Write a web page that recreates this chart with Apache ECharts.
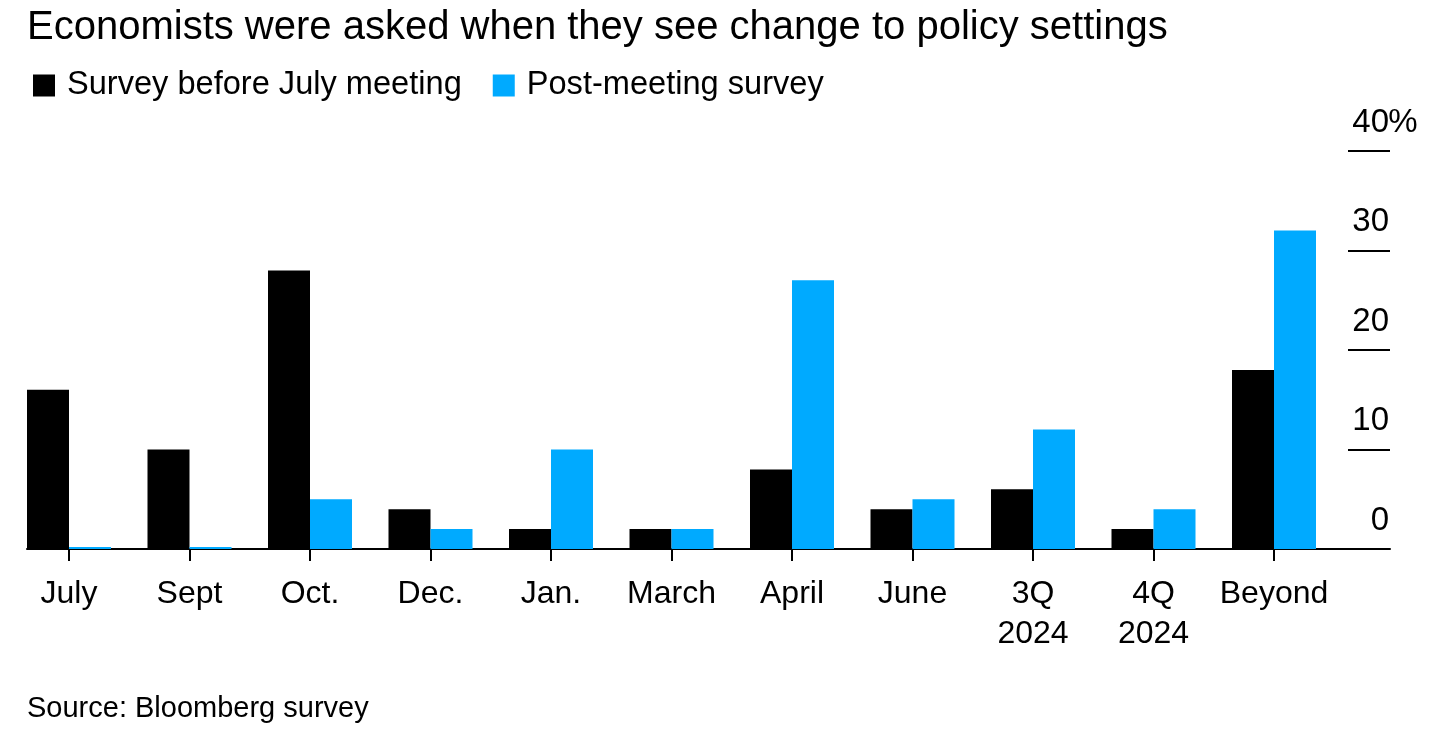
<!DOCTYPE html>
<html>
<head>
<meta charset="utf-8">
<script src="https://cdn.jsdelivr.net/npm/echarts@6/dist/echarts.min.js"></script>
<style>
html,body{margin:0;padding:0;background:#fff;}
#chart{width:1456px;height:734px;}
</style>
</head>
<body>
<div id="chart"></div>
<script>
const categories = ['July','Sept','Oct.','Dec.','Jan.','March','April','June','3Q\n2024','4Q\n2024','Beyond'];
const beforeMeeting = [16,10,28,4,2,2,8,4,6,2,18];
const postMeeting = [0.2,0.2,5,2,10,2,27,5,12,4,32];
const yTicks = [0,10,20,30,40];
const seriesNames = ['Survey before July meeting','Post-meeting survey'];
const titleText = 'Economists were asked when they see change to policy settings';
const sourceText = 'Source: Bloomberg survey';

const FONT = '"Liberation Sans", Arial, Helvetica, sans-serif';
const BLUE = '#00aaff';
const chart = echarts.init(document.getElementById('chart'));
chart.setOption({
  backgroundColor:'#fff',
  animation:false,
  textStyle:{fontFamily:FONT,color:'#000'},
  title:[
    {text:titleText,left:22,top:3,textStyle:{fontFamily:FONT,fontSize:40,fontWeight:'normal',color:'#000'}},
    {text:sourceText,left:22,top:689,textStyle:{fontFamily:FONT,fontSize:29,fontWeight:'normal',color:'#000'}}
  ],
  legend:{
    left:28,top:64,itemWidth:22,itemHeight:22,itemGap:31,icon:'rect',
    textStyle:{fontFamily:FONT,fontSize:32.6,color:'#000',padding:[0,0,0,7]},
    data:seriesNames
  },
  grid:[
    {left:8.75,right:121.75,top:151,bottom:185},
    {left:27,right:66,top:151,bottom:185},
    {left:27,right:108,top:151,bottom:185}
  ],
  xAxis:[
    {type:'category',gridIndex:0,data:categories,
     axisLine:{show:false},
     axisTick:{show:true,alignWithLabel:true,length:12,lineStyle:{color:'#000',width:2}},
     axisLabel:{fontFamily:FONT,fontSize:32,color:'#000',margin:25,lineHeight:40,interval:0}},
    {type:'value',gridIndex:1,min:0,max:1,
     axisLine:{show:true,onZero:false,lineStyle:{color:'#000',width:2}},
     axisTick:{show:false},axisLabel:{show:false},splitLine:{show:false}},
    {type:'value',gridIndex:2,min:0,max:1,show:false,axisLine:{onZero:false}}
  ],
  yAxis:[
    {type:'value',gridIndex:0,min:0,max:40,interval:10,show:false},
    {type:'value',gridIndex:1,min:0,max:40,interval:10,show:false,axisLine:{onZero:false}},
    {type:'value',gridIndex:2,min:0,max:40,interval:10,position:'right',
     axisLine:{show:false,onZero:false},
     axisTick:{show:true,inside:false,length:42,lineStyle:{color:'#000',width:2}},
     splitLine:{show:false},
     axisLabel:{
       show:true,align:'right',verticalAlign:'bottom',margin:69,padding:[0,0,12,0],
       formatter:function(v){return v===yTicks[yTicks.length-1] ? '{v|'+v+'}{p|%}' : '{v|'+v+'}{p|}';},
       rich:{
         v:{fontFamily:FONT,fontSize:33,color:'#000'},
         p:{fontFamily:FONT,fontSize:33,color:'#000',width:28,align:'left'}
       }
     }}
  ],
  series:[
    {name:seriesNames[0],type:'bar',xAxisIndex:0,yAxisIndex:0,data:beforeMeeting,barWidth:42,barGap:'0%',itemStyle:{color:'#000'}},
    {name:seriesNames[1],type:'bar',xAxisIndex:0,yAxisIndex:0,data:postMeeting,barWidth:42,barGap:'0%',itemStyle:{color:BLUE}},
    {type:'line',xAxisIndex:1,yAxisIndex:1,data:[],silent:true},
    {type:'line',xAxisIndex:2,yAxisIndex:2,data:[],silent:true}
  ]
});
</script>
</body>
</html>
